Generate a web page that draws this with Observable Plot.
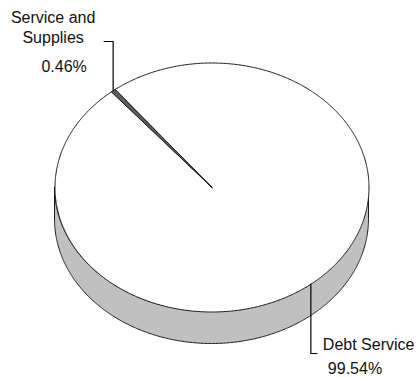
<!DOCTYPE html>
<html><head><meta charset="utf-8">
<script src="https://cdn.jsdelivr.net/npm/d3@7"></script>
<script src="https://cdn.jsdelivr.net/npm/@observablehq/plot@0.6"></script>
<style>body{margin:0;background:#fff}#chart svg{display:block}</style>
</head><body><div id="chart"></div>
<script>
// ---- data ----
const categories = ["Debt Service", "Service and Supplies"];
const values = [99.54, 0.46];
const nameLabels = ["Debt Service", "Service and\nSupplies"];
const percentLabels = ["99.54%", "0.46%"];
const sliceColors = ["#ffffff", "#5f5f5f"];

// ---- layout ----
const W = 419, H = 377;
const cx = 211.5, cy = 187, rx = 157, ry = 124.5, depth = 32;
const startDeg = 321.8; // clockwise from 12 o'clock
const total = d3.sum(values);
const pt = (deg) => { const a = deg * Math.PI / 180; return {x: cx + rx * Math.sin(a), y: cy - ry * Math.cos(a)}; };

let acc = startDeg;
const slices = categories.map((c, i) => {
  const a0 = acc, a1 = acc + values[i] / total * 360; acc = a1;
  return {c, i, a0, a1, mid: (a0 + a1) / 2};
});
const wedge = (s) => {
  const pts = [{x: cx, y: cy}];
  const n = Math.max(2, Math.ceil((s.a1 - s.a0) / 0.5));
  for (let j = 0; j <= n; j++) pts.push(pt(s.a0 + (s.a1 - s.a0) * j / n));
  return pts;
};
const side = d3.range(90, 270.001, 0.5).map(d => { const p = pt(d); return {x: p.x, y1: p.y, y2: p.y + depth}; });

const aDS = pt(slices[0].mid), aSS = pt(slices[1].mid);
const leaders = [
  {k: 0, x: aDS.x, y: aDS.y}, {k: 0, x: aDS.x, y: 353}, {k: 0, x: aDS.x + 6, y: 353},
  {k: 1, x: aSS.x, y: aSS.y}, {k: 1, x: aSS.x, y: 41}, {k: 1, x: aSS.x - 9, y: 41}
];
const textsStart = [
  {t: nameLabels[0], x: aDS.x + 12, y: 343},
  {t: percentLabels[0], x: aDS.x + 17, y: 367}
];
const textsMiddle = [
  {t: nameLabels[1], x: aSS.x - 60, y: 26},
  {t: percentLabels[1], x: aSS.x - 49, y: 65}
];

const chart = Plot.plot({
  width: W, height: H, margin: 0,
  x: {domain: [0, W], range: [0, W], axis: null},
  y: {domain: [0, H], range: [0, H], axis: null},
  style: {background: "#fff", fontFamily: "'Liberation Sans', Arial, sans-serif"},
  marks: [
    Plot.areaY(side, {x: "x", y1: "y1", y2: "y2", fill: "#c0c0c0", stroke: "#1a1a1a", strokeWidth: 1}),
    ...slices.map(s => Plot.line(wedge(s), {x: "x", y: "y", curve: "linear-closed", fill: sliceColors[s.i], stroke: "#1a1a1a", strokeWidth: 1})),
    Plot.line(leaders, {x: "x", y: "y", z: "k", stroke: "#000", strokeWidth: 1.2}),
    Plot.text(textsStart, {x: "x", y: "y", text: "t", textAnchor: "start", fontSize: 16, lineHeight: 1.25, fill: "#111"}),
    Plot.text(textsMiddle, {x: "x", y: "y", text: "t", textAnchor: "middle", fontSize: 16, lineHeight: 1.25, fill: "#111"})
  ]
});
document.getElementById("chart").appendChild(chart);
</script>
</body></html>
